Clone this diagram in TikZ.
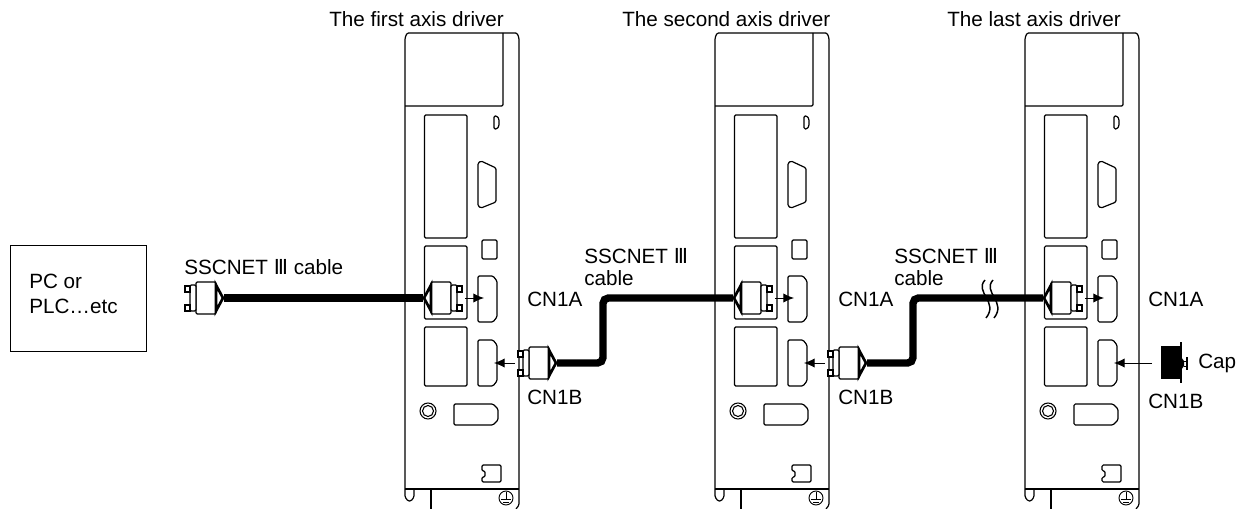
\documentclass[tikz,border=0pt]{standalone}
\usepackage{fontspec}
\setmainfont{Liberation Sans}
\newfontfamily\numfont{DejaVu Sans}
\usetikzlibrary{arrows.meta,positioning}

\tikzset{
    outline/.style={draw, line width=0.9pt, rounded corners=1pt},
    caption/.style={font=\fontsize{15.5}{18}\selectfont, inner sep=0pt},
    cable/.style={line width=5.5pt, rounded corners=4pt},
    pointer/.style={-{Latex[length=8pt,width=7pt]}, line width=0.7pt},
    drivercase/.pic={
        % body and front panel
        \draw[outline] (405,489) -- (405,38) -- (407,33) -- (517,33) -- (519,38) -- (519,505) -- (516,509);
        \draw[outline] (503,33) -- (503,106) -- (405,106);
        \draw[outline] (405,489) -- (519,489);
        \draw[outline] (405,489) -- (405,497) -- (408,501) -- (411,501) -- (414,497) -- (414,489);
        \draw[outline] (431,489) -- (431,509);
        \draw[outline] (424.5,115) rectangle (467,238);
        \draw[outline] (424.5,246) rectangle (467,319);
        \draw[outline] (424.5,327) rectangle (467,386);
        \draw[outline] (482,240) rectangle (497,259);
        \draw[outline] (494,116) -- (497,116) -- (499,119) -- (499,126) -- (497,129) -- (494,129) -- cycle;
        \draw[outline] (478,163) -- (481,161) -- (496,168) -- (496,202) -- (481,208) -- (478,206) -- cycle;
        % sockets
        \draw[outline] (478,276) -- (493,276) -- (497,281) -- (497,317) -- (493,322) -- (478,322) -- cycle;
        \draw[outline] (478,340) -- (493,340) -- (497,345) -- (497,381) -- (493,386) -- (478,386) -- cycle;
        \draw[outline] (454,404) -- (493,404) -- (498,409) -- (498,420) -- (493,425) -- (454,425) -- cycle;
        \draw[line width=0.8pt] (428,411) circle (8);
        \draw[line width=0.8pt] (428,411) circle (5.5);
        \draw[outline] (482,465) -- (501,465) -- (501,482) -- (482,482) -- (482,477) -- (485,477) -- (485,471) -- (482,471) -- cycle;
        % earth mark
        \draw[line width=0.7pt] (506,498) circle (7);
        \draw[line width=0.7pt] (506,492) -- (506,499) (501,499) -- (511,499) (503,502) -- (509,502);
        \coordinate (-cna) at (484,298);
        \coordinate (-cnb) at (494,363);
    },
    plughead/.pic={
        \draw[outline, fill=white] (8,-16) rectangle (28,16);
        \draw[outline, fill=white] (28,-13) rectangle (34,13);
        \draw[outline, sharp corners, fill=white] (34,-12) rectangle (39,-6);
        \draw[outline, sharp corners, fill=white] (34,7) rectangle (39,13);
        \draw[line width=2pt, fill=white, line join=miter] (1,0) -- (8,-13) -- (8,13) -- cycle;
        \coordinate (-tip) at (0,0);
        \coordinate (-pin) at (42,0);
    }
}

\begin{document}
\begin{tikzpicture}[x=0.75pt, y=-0.75pt]
\useasboundingbox (0,0) rectangle (1248,509);

\pic (drvA) at (0,0) {drivercase};
\pic (drvB) at (310,0) {drivercase};
\pic (drvC) at (620,0) {drivercase};

\node[caption, anchor=base west] (titleA) at (329,27) {The first axis driver};
\node[caption, anchor=base west] (titleB) at (622,27) {The second axis driver};
\node[caption, anchor=base west] (titleC) at (947,27) {The last axis driver};

\node[draw, line width=0.7pt, minimum width=102pt, minimum height=79.5pt, inner sep=0pt] (host) at (78,298) {};
\node[caption, anchor=base west] (hostA) at (29,289) {PC or};
\node[caption, anchor=base west] (hostB) at (29,314) {PLC…etc};

\pic[xscale=-1] (plugS) at (224,298) {plughead};
\pic (plugA) at (423,298) {plughead};
\pic (plugB) at (733,298) {plughead};
\pic (plugC) at (1043,298) {plughead};
\pic[xscale=-1] (plugD) at (557,363) {plughead};
\pic[xscale=-1] (plugE) at (867,363) {plughead};

\coordinate (bendA) at (603,330);
\coordinate (bendB) at (913,330);

\draw[cable] (plugS-tip) -- (plugA-tip);
\draw[cable] (plugD-tip) -| (bendA) |- (plugB-tip);
\draw[cable] (plugE-tip) -| (bendB) |- (plugC-tip);

\draw[pointer] (plugA-pin) -- (drvA-cna);
\draw[pointer] (plugB-pin) -- (drvB-cna);
\draw[pointer] (plugC-pin) -- (drvC-cna);
\draw[pointer] (plugD-pin) -- (drvA-cnb);
\draw[pointer] (plugE-pin) -- (drvB-cnb);

% break in the last cable
\draw[line width=1.1pt] (985,280) .. controls (974,292) and (999,302) .. (986,318);
\draw[line width=1.1pt] (993,280) .. controls (982,292) and (1007,302) .. (994,318);

% cap
\fill (1161,346) rectangle (1181,379);
\draw[line width=1.4pt] (1181,342) -- (1181,383);
\fill (1181,357) -- (1184,361) -- (1184,366) -- (1181,370) -- cycle;
\draw[line width=1.4pt] (1187,357) -- (1187,370);
\draw[line width=0.7pt] (1184,361) -- (1187,361) (1184,366) -- (1187,366);
\coordinate (capend) at (1152,363);
\draw[pointer] (capend) -- (drvC-cnb);
\node[caption, anchor=base west] (caplabel) at (1198,368) {Cap};

% connector names
\node[caption, anchor=base west] (cnaA) at (527,306) {CN1A};
\node[caption, anchor=base west] (cnbA) at (527,404) {CN1B};
\node[caption, anchor=base west] (cnaB) at (838,306) {CN1A};
\node[caption, anchor=base west] (cnbB) at (838,404) {CN1B};
\node[caption, anchor=base west] (cnaC) at (1148,306) {CN1A};
\node[caption, anchor=base west] (cnbC) at (1148,408) {CN1B};

\node[caption, anchor=base west] (labelS) at (184,275) {SSCNET {\numfont Ⅲ} cable};
\node[caption, anchor=base west] (labelA) at (584,264) {SSCNET {\numfont Ⅲ}};
\node[caption, anchor=base west] (labelAb) at (584,286) {cable};
\node[caption, anchor=base west] (labelB) at (894,264) {SSCNET {\numfont Ⅲ}};
\node[caption, anchor=base west] (labelBb) at (894,286) {cable};
\end{tikzpicture}
\end{document}
